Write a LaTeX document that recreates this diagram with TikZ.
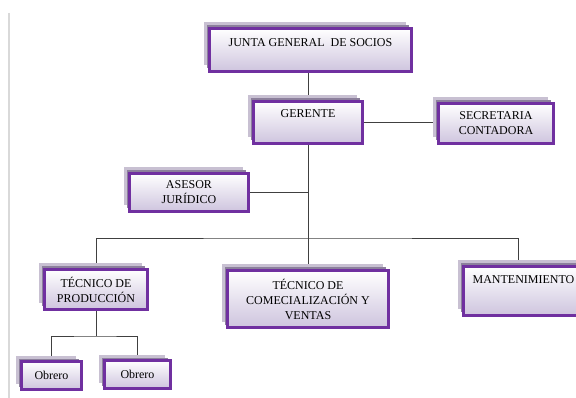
\documentclass[tikz,border=0pt]{standalone}
\usepackage{fontspec}
\setmainfont{Liberation Serif}
\usetikzlibrary{shadows,backgrounds}
\definecolor{borde}{RGB}{112,48,160}
\definecolor{fondo}{RGB}{206,196,222}
\definecolor{sombraA}{RGB}{200,192,210}
\definecolor{sombraB}{RGB}{140,128,156}
\tikzset{
orgbox/.style={draw=borde, line width=2.8pt, top color=white, bottom color=fondo,
  align=center, inner sep=2pt, font=\fontsize{12}{15}\selectfont,
  drop shadow={shadow xshift=-6pt, shadow yshift=6pt, fill=sombraA, opacity=1},
  drop shadow={shadow xshift=-3pt, shadow yshift=3pt, fill=sombraB, opacity=1}},%boxes
link/.style={draw=black!75, line width=0.8pt}%connectors
}

\begin{document}
\begin{tikzpicture}[x=1pt,y=-1pt]
\useasboundingbox (0,0) rectangle (576,398);
\draw[gray!30, line width=1.5pt] (9,13) -- (9,398);%page edge

\node[orgbox, minimum width=202pt, minimum height=43pt, text depth=14pt] (junta) at (310.5,50) {JUNTA GENERAL\ \ DE SOCIOS};
\node[orgbox, minimum width=109pt, minimum height=42pt, text depth=17pt] (gerente) at (308,122.5) {GERENTE};
\node[orgbox, minimum width=115pt, minimum height=40pt] (secretaria) at (496,123.5) {SECRETARIA\\CONTADORA};
\node[orgbox, minimum width=119pt, minimum height=38pt] (asesor) at (189,192.5) {ASESOR\\JURÍDICO};

\node[orgbox, minimum width=103pt, minimum height=40pt] (tecprod) at (96,289.5) {TÉCNICO DE\\PRODUCCIÓN};
\node[orgbox, minimum width=161pt, minimum height=57pt] (teccom) at (308,299) {TÉCNICO DE\\COMECIALIZACIÓN Y\\VENTAS};
\node[orgbox, minimum width=120pt, minimum height=49pt, text depth=22pt] (mant) at (523.5,291) {MANTENIMIENTO};

\node[orgbox, minimum width=60pt, minimum height=28pt] (obrero1) at (51.5,375.5) {Obrero};
\node[orgbox, minimum width=66pt, minimum height=28pt] (obrero2) at (137.5,374.5) {Obrero};

\coordinate (bus) at (308,238);
\coordinate (obus) at (96,336);

\begin{pgfonlayer}{background}
\draw[link] (gerente.north) -- (gerente.north |- junta.south);
\draw[link] (gerente.east) -- (gerente.east -| secretaria.west);
\draw[link] (gerente.south) -- (teccom.north);
\draw[link] (asesor.east) -- (asesor.east -| gerente.south);
\draw[link] (tecprod.north) |- (bus) -| ([xshift=-5.5pt]mant.north);
\draw[link] (tecprod.south) -- (obus);
\draw[link] (obrero1.north) |- (obus) -| (obrero2.north);
\end{pgfonlayer}
\end{tikzpicture}
\end{document}
